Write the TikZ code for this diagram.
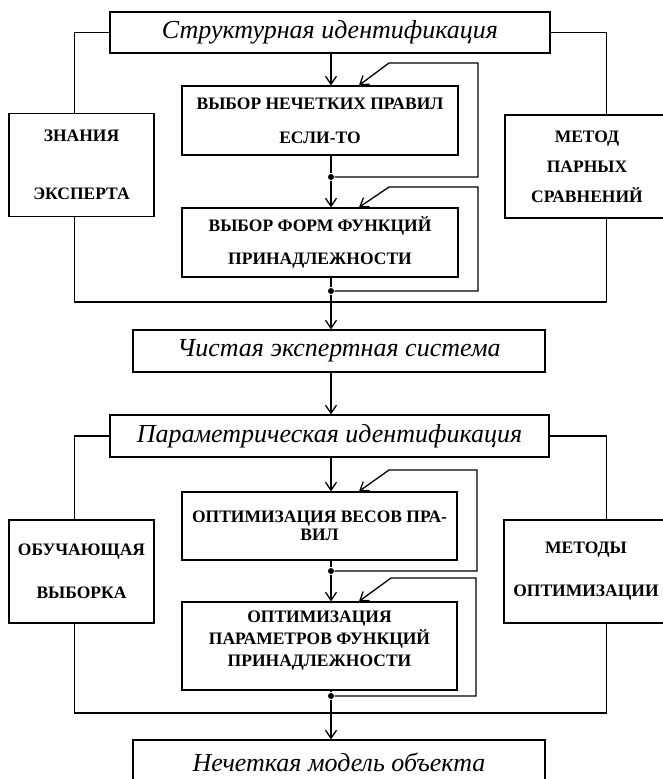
\documentclass[tikz,border=0pt]{standalone}
\usepackage{fontspec}
\setmainfont{Liberation Serif}
\usetikzlibrary{arrows.meta}
\begin{document}
\begin{tikzpicture}[x=1pt,y=-1pt,
  line width=1.3pt,
  box/.style={draw, line width=1.3pt, inner sep=0pt, align=center},
  head/.style={box, font=\fontsize{26}{30}\selectfont\itshape},
  caps/.style={box, font=\fontsize{17.5}{#1}\selectfont\bfseries},
  txt/.style={inner sep=0pt, align=center, font=\fontsize{17.5}{#1}\selectfont\bfseries},
  flow/.style={-{Straight Barb[length=8pt,width=11pt,line width=1.3pt]}},
  dot/.style={circle, fill, inner sep=0pt, minimum size=6pt}]
\clip (0,0) rectangle (663,779);

% guide lines: centre column, side columns, feedback columns
\coordinate (xC) at (331,0);
\coordinate (xL) at (74.5,0);
\coordinate (xR) at (606.5,0);
\coordinate (xA) at (359,0);

% ---------------- structural identification ----------------
\node[head, minimum width=440, minimum height=41] (top) at (330,32.5) {Структурная идентификация};
\node[caps=34, minimum width=276, minimum height=69] (sel1) at (320,120.5) {ВЫБОР НЕЧЕТКИХ ПРАВИЛ\\ЕСЛИ-ТО};
\node[caps=33, minimum width=276, minimum height=69] (sel2) at (320,242.5) {ВЫБОР ФОРМ ФУНКЦИЙ\\ПРИНАДЛЕЖНОСТИ};
\node[caps=58, minimum width=145, minimum height=103] (know) at (81.5,165) {ЗНАНИЯ\\ЭКСПЕРТА};
\node[caps=30, minimum width=164, minimum height=103] (pair) at (587,166.5) {МЕТОД\\ПАРНЫХ\\СРАВНЕНИЙ};

\node[dot] (d1) at (331,177) {};
\node[dot] (d2) at (331,291) {};
\coordinate (j1) at (331,302);

\draw (top.west) -| (know.north -| xL);
\draw (top.east) -| (pair.north -| xR);
\draw (know.south -| xL) |- (j1) -| (pair.south -| xR);

\draw[flow] (top.south -| xC) -- (sel1.north -| xC);
\draw (sel1.south -| xC) -- (d1);
\draw[flow] (d1) -- (sel2.north -| xC);
\draw (sel2.south -| xC) -- (d2) -- (j1);

% feedback loops
\coordinate (r1) at (478,63);
\coordinate (t1) at (389,63);
\draw[flow] (d1) -| (r1) -- (t1) -- (sel1.north -| xA);
\coordinate (r2) at (478,187);
\coordinate (t2) at (389,187);
\draw[flow] (d2) -| (r2) -- (t2) -- (sel2.north -| xA);

% ---------------- pure expert system ----------------
\node[head, minimum width=412, minimum height=42] (pure) at (339,351) {Чистая экспертная система};
\draw[flow] (j1) -- (pure.north -| xC);

% ---------------- parametric identification ----------------
\node[head, minimum width=439, minimum height=42] (par) at (329.5,436) {Параметрическая идентификация};
\draw[flow] (pure.south -| xC) -- (par.north -| xC);

\node[caps=18, minimum width=275, minimum height=68] (opt1) at (319.5,526) {ОПТИМИЗАЦИЯ ВЕСОВ ПРА-\\ВИЛ};
\node[box, minimum width=275, minimum height=88] (opt2) at (319.5,646) {};
\node[txt=22] (opt2t) at (319.5,641) {ОПТИМИЗАЦИЯ\\ПАРАМЕТРОВ ФУНКЦИЙ\\ПРИНАДЛЕЖНОСТИ};
\node[caps=43, minimum width=145, minimum height=103] (train) at (81.5,571.5) {ОБУЧАЮЩАЯ\\ВЫБОРКА};
\node[caps=43, minimum width=164, minimum height=103] (meth) at (586,571.5) {МЕТОДЫ\\ОПТИМИЗАЦИИ};

\node[dot] (d3) at (331,571) {};
\node[dot] (d4) at (331,696) {};
\coordinate (j2) at (331,713);

\draw (par.west) -| (train.north -| xL);
\draw (par.east) -| (meth.north -| xR);
\draw (train.south -| xL) |- (j2) -| (meth.south -| xR);

\draw[flow] (par.south -| xC) -- (opt1.north -| xC);
\draw (opt1.south -| xC) -- (d3);
\draw[flow] (d3) -- (opt2.north -| xC);
\draw (opt2.south -| xC) -- (d4) -- (j2);

\coordinate (r3) at (477,470);
\coordinate (t3) at (389,470);
\draw[flow] (d3) -| (r3) -- (t3) -- (opt1.north -| xA);
\coordinate (r4) at (476,578);
\coordinate (t4) at (391,578);
\draw[flow] (d4) -| (r4) -- (t4) -- (opt2.north -| xA);

% ---------------- fuzzy model ----------------
\node[head, minimum width=412, minimum height=44] (model) at (339,762) {Нечеткая модель объекта};
\draw[flow] (j2) -- (model.north -| xC);
\end{tikzpicture}
\end{document}
